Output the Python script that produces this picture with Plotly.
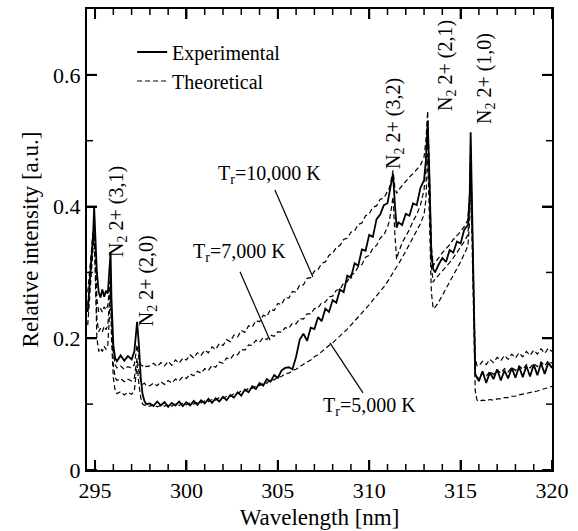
import plotly.graph_objects as go

# ---------------- data ----------------
WL = [
    294.6, 294.7, 294.8, 294.9, 294.95, 295.0, 295.1, 295.2, 295.3, 295.4,
    295.5, 295.6, 295.7, 295.8, 295.85, 295.9, 296.0, 296.1, 296.2, 296.4,
    296.6, 296.8, 297.0, 297.15, 297.3, 297.4, 297.5, 297.6, 297.7, 297.8,
    298.0, 298.2, 298.4, 298.6, 298.8, 299.0, 299.2, 299.4, 299.6, 299.8,
    300.0, 300.2, 300.4, 300.6, 300.8, 301.0, 301.2, 301.4, 301.6, 301.8,
    302.0, 302.2, 302.4, 302.6, 302.8, 303.0, 303.2, 303.4, 303.6, 303.8,
    304.0, 304.2, 304.4, 304.6, 304.8, 305.0, 305.2, 305.4, 305.6, 305.8,
    306.0, 306.2, 306.4, 306.6, 306.8, 307.0, 307.2, 307.4, 307.6, 307.8,
    308.0, 308.2, 308.4, 308.6, 308.8, 309.0, 309.2, 309.4, 309.6, 309.8,
    310.0, 310.2, 310.4, 310.6, 310.8, 311.0,
    311.1, 311.2, 311.3, 311.4, 311.5, 311.6, 311.8, 312.0, 312.2, 312.4,
    312.6, 312.8, 313.0, 313.1, 313.2, 313.3, 313.4, 313.5, 313.6, 313.8,
    314.0, 314.2, 314.4, 314.6, 314.8, 315.0, 315.2, 315.4, 315.5, 315.55,
    315.6, 315.7, 315.8, 315.9,
    316.0, 316.2, 316.4, 316.6, 316.8, 317.0, 317.2, 317.4, 317.6, 317.8,
    318.0, 318.2, 318.4, 318.6, 318.8, 319.0, 319.2, 319.4, 319.6, 319.8,
    320.0,
]

EXPERIMENTAL = [
    0.240, 0.280, 0.310, 0.360, 0.400, 0.370, 0.300, 0.270, 0.262, 0.274,
    0.263, 0.272, 0.268, 0.310, 0.330, 0.260, 0.190, 0.170, 0.165, 0.174,
    0.166, 0.173, 0.168, 0.180, 0.225, 0.190, 0.140, 0.115, 0.105, 0.100,
    0.101, 0.097, 0.104, 0.098, 0.103, 0.096, 0.102, 0.098, 0.104, 0.097,
    0.103, 0.098, 0.105, 0.099, 0.106, 0.101, 0.108, 0.102, 0.109, 0.104,
    0.111, 0.106, 0.114, 0.110, 0.118, 0.113, 0.122, 0.118, 0.127, 0.123,
    0.132, 0.128, 0.138, 0.134, 0.144, 0.140, 0.151, 0.155, 0.156, 0.153,
    0.172, 0.198, 0.207, 0.196, 0.216, 0.214, 0.232, 0.226, 0.245, 0.240,
    0.258, 0.254, 0.274, 0.270, 0.295, 0.292, 0.314, 0.310, 0.335, 0.333,
    0.357, 0.354, 0.381, 0.388, 0.402, 0.405,
    0.420, 0.430, 0.450, 0.405, 0.368, 0.376, 0.372, 0.389, 0.386, 0.405,
    0.402, 0.428, 0.440, 0.470, 0.530, 0.440, 0.330, 0.305, 0.300, 0.312,
    0.322, 0.316, 0.334, 0.330, 0.347, 0.344, 0.365, 0.372, 0.420, 0.513,
    0.440, 0.290, 0.145, 0.140,
    0.135, 0.150, 0.132, 0.148, 0.138, 0.153, 0.136, 0.151, 0.139, 0.155,
    0.140, 0.157, 0.141, 0.158, 0.142, 0.160, 0.144, 0.162, 0.146, 0.163,
    0.155,
]

THEORY_5000K = [
    0.220, 0.260, 0.290, 0.330, 0.360, 0.310, 0.200, 0.180, 0.185, 0.180,
    0.188, 0.183, 0.190, 0.240, 0.280, 0.200, 0.140, 0.120, 0.116, 0.119,
    0.114, 0.118, 0.115, 0.120, 0.160, 0.130, 0.110, 0.100, 0.098, 0.097,
    0.097, 0.099, 0.096, 0.098, 0.097, 0.099, 0.097, 0.100, 0.098, 0.101,
    0.099, 0.102, 0.100, 0.103, 0.102, 0.105, 0.104, 0.107, 0.106, 0.110,
    0.109, 0.112, 0.112, 0.116, 0.116, 0.120, 0.120, 0.124, 0.124, 0.128,
    0.128, 0.132, 0.132, 0.137, 0.137, 0.141, 0.142, 0.146, 0.147, 0.151,
    0.153, 0.157, 0.160, 0.164, 0.167, 0.172, 0.175, 0.180, 0.184, 0.189,
    0.193, 0.198, 0.203, 0.209, 0.214, 0.220, 0.226, 0.232, 0.238, 0.245,
    0.251, 0.258, 0.264, 0.271, 0.278, 0.285,
    0.290, 0.295, 0.300, 0.305, 0.308, 0.313, 0.322, 0.332, 0.342, 0.352,
    0.362, 0.374, 0.388, 0.410, 0.480, 0.380, 0.270, 0.245, 0.247, 0.255,
    0.265, 0.275, 0.285, 0.295, 0.306, 0.316, 0.328, 0.340, 0.380, 0.470,
    0.380, 0.250, 0.120, 0.106,
    0.104, 0.106, 0.105, 0.107, 0.106, 0.108, 0.108, 0.110, 0.110, 0.112,
    0.112, 0.114, 0.115, 0.117, 0.117, 0.119, 0.120, 0.122, 0.123, 0.125,
    0.127,
]

THEORY_7000K = [
    0.250, 0.280, 0.310, 0.350, 0.370, 0.330, 0.230, 0.210, 0.215, 0.210,
    0.218, 0.213, 0.220, 0.260, 0.290, 0.220, 0.160, 0.140, 0.136, 0.139,
    0.134, 0.138, 0.135, 0.140, 0.170, 0.150, 0.135, 0.130, 0.132, 0.128,
    0.128, 0.132, 0.128, 0.134, 0.130, 0.136, 0.132, 0.138, 0.135, 0.142,
    0.139, 0.146, 0.143, 0.150, 0.147, 0.154, 0.151, 0.159, 0.156, 0.164,
    0.162, 0.170, 0.168, 0.176, 0.175, 0.183, 0.182, 0.190, 0.189, 0.197,
    0.194, 0.201, 0.198, 0.205, 0.203, 0.210, 0.209, 0.216, 0.215, 0.223,
    0.222, 0.230, 0.229, 0.237, 0.237, 0.245, 0.246, 0.254, 0.255, 0.263,
    0.264, 0.273, 0.274, 0.284, 0.286, 0.296, 0.299, 0.309, 0.312, 0.323,
    0.326, 0.337, 0.341, 0.352, 0.357, 0.369,
    0.378, 0.395, 0.415, 0.360, 0.320, 0.330, 0.345, 0.355, 0.365, 0.378,
    0.388, 0.402, 0.425, 0.460, 0.520, 0.420, 0.310, 0.285, 0.290, 0.296,
    0.302, 0.308, 0.315, 0.322, 0.330, 0.338, 0.347, 0.357, 0.400, 0.490,
    0.400, 0.280, 0.150, 0.140,
    0.140, 0.147, 0.142, 0.150, 0.145, 0.152, 0.147, 0.154, 0.149, 0.156,
    0.151, 0.158, 0.153, 0.160, 0.155, 0.162, 0.157, 0.164, 0.158, 0.166,
    0.162,
]

THEORY_10000K = [
    0.270, 0.300, 0.330, 0.360, 0.380, 0.340, 0.260, 0.240, 0.245, 0.240,
    0.248, 0.243, 0.250, 0.280, 0.300, 0.240, 0.180, 0.160, 0.155, 0.158,
    0.153, 0.157, 0.155, 0.160, 0.190, 0.170, 0.160, 0.158, 0.160, 0.157,
    0.158, 0.162, 0.157, 0.163, 0.158, 0.165, 0.159, 0.167, 0.162, 0.170,
    0.167, 0.175, 0.170, 0.178, 0.174, 0.182, 0.178, 0.187, 0.183, 0.192,
    0.189, 0.198, 0.195, 0.205, 0.202, 0.212, 0.209, 0.219, 0.217, 0.227,
    0.225, 0.235, 0.233, 0.244, 0.242, 0.253, 0.251, 0.262, 0.261, 0.271,
    0.270, 0.281, 0.281, 0.291, 0.292, 0.302, 0.304, 0.314, 0.316, 0.326,
    0.329, 0.338, 0.341, 0.350, 0.352, 0.361, 0.363, 0.373, 0.375, 0.386,
    0.389, 0.399, 0.401, 0.411, 0.413, 0.423,
    0.428, 0.440, 0.455, 0.430, 0.420, 0.425, 0.432, 0.438, 0.445, 0.450,
    0.456, 0.463, 0.475, 0.500, 0.545, 0.450, 0.340, 0.310, 0.315, 0.322,
    0.330, 0.336, 0.342, 0.350, 0.356, 0.362, 0.370, 0.380, 0.420, 0.500,
    0.420, 0.300, 0.170, 0.158,
    0.158, 0.165, 0.160, 0.168, 0.163, 0.171, 0.166, 0.174, 0.168, 0.176,
    0.170, 0.178, 0.172, 0.180, 0.174, 0.182, 0.176, 0.184, 0.177, 0.185,
    0.180,
]

for _s in (EXPERIMENTAL, THEORY_5000K, THEORY_7000K, THEORY_10000K):
    assert len(_s) == len(WL), (len(_s), len(WL))

X_RANGE = [294.56, 320]
Y_RANGE = [0, 0.70]
X_MAJOR = [295, 300, 305, 310, 315, 320]
X_MINOR = [v for v in range(295, 321) if v % 5 != 0]
Y_MAJOR = [0, 0.2, 0.4, 0.6]
Y_MAJOR_TEXT = ["0", "0.2", "0.4", "0.6"]
Y_MINOR = [0.1, 0.3, 0.5]

BAND_LABELS = ["N<sub>2</sub> 2+ (3,1)", "N<sub>2</sub> 2+ (2,0)", "N<sub>2</sub> 2+ (3,2)",
               "N<sub>2</sub> 2+ (2,1)", "N<sub>2</sub> 2+ (1,0)"]
BAND_LABEL_POS = [(296.26, 0.392), (297.84, 0.288), (311.41, 0.527), (314.25, 0.615), (316.33, 0.595)]

TEMP_LABELS = ["T<sub>r</sub>=10,000 K", "T<sub>r</sub>=7,000 K", "T<sub>r</sub>=5,000 K"]
TEMP_LABEL_POS = [(304.57, 0.448), (302.93, 0.331), (310.04, 0.096)]
TEMP_LEADERS = [((304.84, 0.425), (306.92, 0.293)),
                ((302.93, 0.301), (304.57, 0.197)),
                ((309.66, 0.117), (307.85, 0.193))]

FONT = "Liberation Serif, Times New Roman, serif"
DASH = "5px,3px"
W, H = 578, 531
MARGIN = dict(l=87, r=26, t=9, b=61)
PLOT_W = W - MARGIN["l"] - MARGIN["r"]
PLOT_H = H - MARGIN["t"] - MARGIN["b"]

fig = go.Figure()
for i, series in enumerate((THEORY_5000K, THEORY_7000K, THEORY_10000K)):
    fig.add_trace(go.Scatter(x=WL, y=series, mode="lines", name="Theoretical",
                             line=dict(color="black", width=1.2, dash=DASH),
                             showlegend=(i == 0), legendrank=2))
fig.add_trace(go.Scatter(x=WL, y=EXPERIMENTAL, mode="lines", name="Experimental",
                         line=dict(color="black", width=1.8), showlegend=True, legendrank=1))

for txt, (x, y) in zip(BAND_LABELS, BAND_LABEL_POS):
    fig.add_annotation(x=x, y=y, xref="x", yref="y", text=txt, showarrow=False,
                       textangle=-90, font=dict(family=FONT, size=20, color="black"))

for txt, (x, y) in zip(TEMP_LABELS, TEMP_LABEL_POS):
    fig.add_annotation(x=x, y=y, xref="x", yref="y", text=txt, showarrow=False,
                       font=dict(family=FONT, size=20, color="black"))

for (x0, y0), (x1, y1) in TEMP_LEADERS:
    fig.add_shape(type="line", xref="x", yref="y", x0=x0, y0=y0, x1=x1, y1=y1,
                  line=dict(color="black", width=1.2))

# inward ticks on all four sides of the frame (positioned through the axes' scales)
for vals, length, width in ((X_MAJOR, 10, 2), (X_MINOR, 6, 1.5)):
    ly = length / PLOT_H
    for v in vals:
        for y0, y1 in ((0, ly), (1, 1 - ly)):
            fig.add_shape(type="line", xref="x", yref="paper", x0=v, x1=v, y0=y0, y1=y1,
                          layer="above", line=dict(color="black", width=width))
for vals, length, width in ((Y_MAJOR, 10, 2), (Y_MINOR, 6, 1.5)):
    lx = length / PLOT_W
    for v in vals:
        for x0, x1 in ((0, lx), (1, 1 - lx)):
            fig.add_shape(type="line", xref="paper", yref="y", x0=x0, x1=x1, y0=v, y1=v,
                          layer="above", line=dict(color="black", width=width))

axis_common = dict(type="linear", ticks="inside", ticklen=10, tickwidth=2, tickcolor="black",
                   showgrid=False, zeroline=False, automargin=False,
                   showline=True, linewidth=2, linecolor="black", mirror="allticks",
                   tickfont=dict(family=FONT, size=22, color="black"))

fig.update_layout(
    width=W, height=H,
    margin=MARGIN,
    plot_bgcolor="white", paper_bgcolor="white",
    font=dict(family=FONT, color="black"),
    xaxis=dict(range=X_RANGE, tickmode="array", tickvals=X_MAJOR,
               title=dict(text="Wavelength [nm]", font=dict(family=FONT, size=23, color="black"), standoff=6),
               **axis_common),
    yaxis=dict(range=Y_RANGE, tickmode="array", tickvals=Y_MAJOR, ticktext=Y_MAJOR_TEXT,
               title=dict(text="Relative intensity [a.u.]", font=dict(family=FONT, size=23, color="black"), standoff=8),
               **axis_common),
    legend=dict(x=0.097, y=0.949, xanchor="left", yanchor="top",
                bgcolor="rgba(0,0,0,0)", font=dict(family=FONT, size=20, color="black"),
                tracegroupgap=0),
)

fig.write_html("out.html")
